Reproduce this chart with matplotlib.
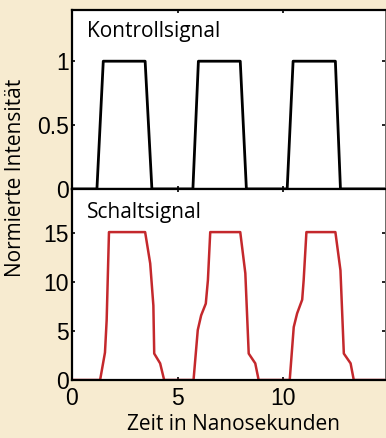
import matplotlib
matplotlib.use("Agg")
import matplotlib.pyplot as plt

# Kontrollsignal (normiert)
ctrl_t = [0, 1.18, 1.48, 3.46, 3.78, 5.72, 5.98, 7.96, 8.25, 10.18, 10.46, 12.46, 12.70, 14.8]
ctrl_v = [0, 0, 1, 1, 0, 0, 1, 1, 0, 0, 1, 1, 0, 0]

# Schaltsignal
sw_t = [0, 1.33, 1.56, 1.64, 1.75, 3.46, 3.70, 3.85, 3.89, 4.17, 4.36,
        5.75, 5.95, 6.11, 6.33, 6.43, 6.54, 7.96, 8.20, 8.36, 8.67, 8.83,
        10.30, 10.49, 10.65, 10.89, 10.96, 11.09, 12.46, 12.70, 12.86, 13.18, 13.33, 14.8]
sw_v = [0, 0, 2.8, 6.1, 15.1, 15.1, 11.9, 7.6, 2.7, 1.7, 0,
        0, 5.1, 6.6, 7.8, 10.2, 15.1, 15.1, 10.9, 2.7, 1.7, 0,
        0, 5.4, 6.8, 8.2, 10.2, 15.1, 15.1, 11.2, 2.7, 1.7, 0, 0]

top_ticks = [0, 0.5, 1]
top_labels = ["0", "0.5", "1"]
bottom_ticks = [0, 5, 10, 15]
x_ticks = [0, 5, 10]

BG = "#f7ebd0"
RED = "#c4282c"
NUM_FONT = "Liberation Sans"
TXT_FONT = "Open Sans"
TXT_SIZE = 15

fig = plt.figure(figsize=(3.86, 4.38), dpi=100, facecolor=BG)
ax1 = fig.add_axes([0.1865, 0.5685, 0.8105, 0.4085])
ax2 = fig.add_axes([0.1865, 0.1324, 0.8105, 0.4361])


def style(ax):
    for side in ("left", "top", "bottom"):
        ax.spines[side].set_linewidth(1.6)
        ax.spines[side].set_color("black")
    ax.spines["right"].set_linewidth(0.6)
    ax.spines["right"].set_color("#555555")
    ax.tick_params(direction="in", length=2.5, width=1.2, top=True, right=True,
                   labelsize=16.5)
    ax.tick_params(axis="y", pad=2)
    ax.tick_params(axis="x", pad=5)
    for lab in ax.get_xticklabels() + ax.get_yticklabels():
        lab.set_fontfamily(NUM_FONT)


ax1.plot(ctrl_t, ctrl_v, color="black", lw=2.0, solid_joinstyle="round")
ax1.set_xlim(0, 14.8)
ax1.set_ylim(0, 1.4)
ax1.set_yticks(top_ticks, top_labels)
ax1.set_xticks(x_ticks[1:])
ax1.tick_params(labelbottom=False)
style(ax1)
ax1.text(0.048, 0.851, "Kontrollsignal", transform=ax1.transAxes, ha="left",
         va="baseline", fontsize=TXT_SIZE, family=TXT_FONT)

ax2.plot(sw_t, sw_v, color=RED, lw=1.8, solid_joinstyle="round")
ax2.set_xlim(0, 14.8)
ax2.set_ylim(0, 19.5)
ax2.set_yticks(bottom_ticks)
ax2.set_xticks(x_ticks)
style(ax2)
ax2.text(0.048, 0.847, "Schaltsignal", transform=ax2.transAxes, ha="left",
         va="baseline", fontsize=TXT_SIZE, family=TXT_FONT)

fig.text(0.605, 0.018, "Zeit in Nanosekunden", ha="center", va="baseline",
         fontsize=TXT_SIZE, family=TXT_FONT)
fig.text(0.039, 0.594, "Normierte Intensität", rotation=90, ha="center", va="center",
         fontsize=TXT_SIZE, family=TXT_FONT)

fig.savefig("out.png", dpi=100, facecolor=BG)
